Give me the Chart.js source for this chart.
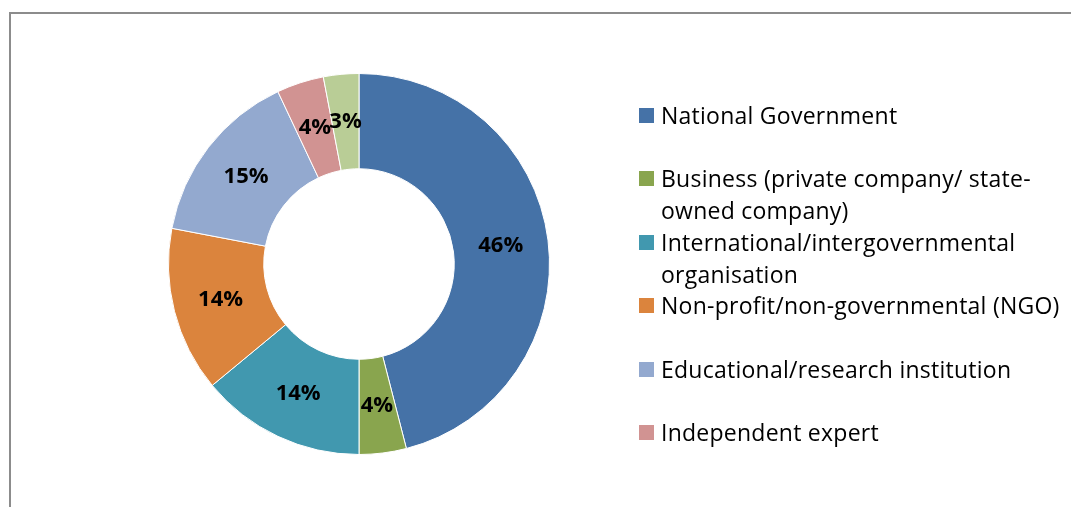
<html>
<head>
<style>
  body { margin: 0; background: #fff; overflow: hidden; }
  #frame {
    position: absolute; left: 9px; top: 12px; width: 1100px; height: 540px;
    border-left: 2px solid #8c8c8c; border-top: 2px solid #8c8c8c;
  }
  #wrap { position: absolute; left: 0; top: 0; width: 1071px; height: 507px; }
  #legend {
    position: absolute; left: 639px; top: 99px;
    font-family: "Open Sans", sans-serif; font-size: 23px; letter-spacing: 0.25px; color: #000;
  }
  .item { position: relative; height: 63.4px; line-height: 32px; padding-left: 22px; white-space: nowrap; }
  .box { position: absolute; left: 0; top: 9px; width: 15px; height: 15px; }
</style>
</head>

<body>
<div id="frame"></div>
<div id="wrap"><canvas id="chart"></canvas></div>
<div id="legend"></div>

<script src="https://cdn.jsdelivr.net/npm/chart.js@4.4.1/dist/chart.umd.min.js"></script>

<script>
// legend lines as they wrap in the original
let labels = [
  ['National Government'],
  ['Business (private company/ state-', 'owned company)'],
  ['International/intergovernmental', 'organisation'],
  ['Non-profit/non-governmental (NGO)'],
  ['Educational/research institution'],
  ['Independent expert'],
  ['Other']
]
let shares = [46, 4, 14, 14, 15, 4, 3]
let colors = ['#4572A7', '#89A54E', '#4198AF', '#DB843D', '#93A9CF', '#D19392', '#B9CD96']
let legendCount = 6

// percent labels drawn on each slice
const sliceLabels = {
  id: 'sliceLabels',
  afterDatasetsDraw(chart) {
    const ctx = chart.ctx
    const meta = chart.getDatasetMeta(0)
    ctx.save()
    ctx.font = 'bold 22px "Open Sans", sans-serif'
    ctx.fillStyle = '#000'
    ctx.textAlign = 'center'
    ctx.textBaseline = 'middle'
    meta.data.forEach((arc, i) => {
      let p = arc.tooltipPosition()
      ctx.fillText(shares[i] + '%', p.x, p.y)
    })
    ctx.restore()
  }
}

function renderLegend() {
  let el = document.getElementById('legend')
  for (let i = 0; i < legendCount; i++) {
    let item = document.createElement('div')
    item.className = 'item'
    item.innerHTML = '<span class="box" style="background:' + colors[i] + '"></span>' + labels[i].join('<br>')
    el.appendChild(item)
  }
}

window.onload = function () {
  const R = 191, cx = 359, cy = 264
  const ctx = document.getElementById('chart').getContext('2d')
  new Chart(ctx, {
    type: 'doughnut',
    data: {
      labels: labels.map(l => l.join(' ')),
      datasets: [{
        data: shares,
        backgroundColor: colors,
        borderColor: '#fff',
        borderWidth: 1,
      }]
    },
    options: {
      responsive: true,
      maintainAspectRatio: false,
      animation: false,
      cutout: '50%',
      layout: {
        padding: { left: cx - R, right: 1071 - cx - R, top: cy - R, bottom: 507 - cy - R }
      },
      plugins: {
        legend: { display: false },
        tooltip: { enabled: false },
      },
    },
    plugins: [sliceLabels],
  })
  renderLegend()
}
</script>
</body>
</html>
